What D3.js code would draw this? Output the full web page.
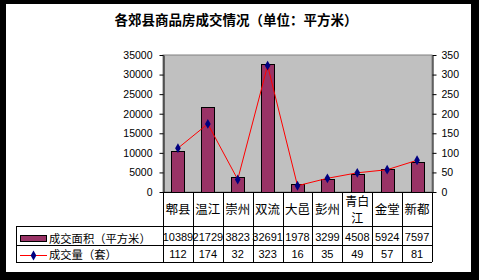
<!DOCTYPE html>
<html><head><meta charset="utf-8">
<script src="https://cdn.jsdelivr.net/npm/d3@7/dist/d3.min.js"></script>
<style>html,body{margin:0;padding:0;background:#000;}svg{display:block;}</style>
</head><body>
<script>
const title = "各郊县商品房成交情况（单位：平方米）";
const categories = ["郫县","温江","崇州","双流","大邑","彭州","青白江","金堂","新都"];
const areaValues = [10389,21729,3823,32691,1978,3299,4508,5924,7597];
const countValues = [112,174,32,323,16,35,49,57,81];
const leftTicks = [0,5000,10000,15000,20000,25000,30000,35000];
const rightTicks = [0,50,100,150,200,250,300,350];
const seriesNames = ["成交面积（平方米）","成交量（套）"];

const W=479,H=280;
const svg=d3.select("body").append("svg").attr("width",W).attr("height",H);
svg.append("rect").attr("x",6).attr("y",4).attr("width",465).attr("height",268).attr("fill","#fff");

const pl=163,pr=432,pt=55,pb=192;
const x=d3.scaleBand().domain(categories).range([pl,pr]).padding(0);
const yL=d3.scaleLinear().domain([0,35000]).range([pb,pt]);
const yR=d3.scaleLinear().domain([0,350]).range([pb,pt]);
const cjk="'Noto Sans CJK SC','Noto Sans',sans-serif";
const num="'Liberation Sans',Arial,sans-serif";

svg.append("text").attr("x",236).attr("y",25).attr("text-anchor","middle")
  .attr("font-family",cjk).attr("font-weight","bold").attr("font-size",13.5).text(title);

// plot area
svg.append("rect").attr("x",pl).attr("y",pt).attr("width",pr-pl).attr("height",pb-pt)
  .attr("fill","#c0c0c0").attr("stroke","#808080").attr("stroke-width",1);

// bars
const bw=13;
svg.selectAll("rect.bar").data(areaValues).join("rect").attr("class","bar")
  .attr("x",(d,i)=>Math.round(x(categories[i])+x.bandwidth()/2-bw/2)+0.5)
  .attr("y",d=>Math.round(yL(d))+0.5)
  .attr("width",bw).attr("height",d=>pb-Math.round(yL(d)))
  .attr("fill","#993366").attr("stroke","#000").attr("stroke-width",1);

// line
const line=d3.line().x((d,i)=>x(categories[i])+x.bandwidth()/2).y(d=>yR(d));
svg.append("path").datum(countValues).attr("d",line).attr("fill","none").attr("stroke","#ff0000").attr("stroke-width",1);
const diamond=d3.symbol().type(d3.symbolDiamond).size(28);
svg.selectAll("path.pt").data(countValues).join("path").attr("class","pt")
  .attr("transform",(d,i)=>`translate(${x(categories[i])+x.bandwidth()/2},${yR(d)})`)
  .attr("d",diamond).attr("fill","#000080");

// axes
const gl=svg.append("g").attr("transform",`translate(${pl+0.5},0)`)
  .call(d3.axisLeft(yL).tickValues(leftTicks).tickSize(4).tickSizeOuter(0).tickPadding(7).tickFormat(d3.format("d")));
const gr=svg.append("g").attr("transform",`translate(${pr+0.5},0)`)
  .call(d3.axisRight(yR).tickValues(rightTicks).tickSize(4).tickSizeOuter(0).tickPadding(5).tickFormat(d3.format("d")));
[gl,gr].forEach(g=>{
  g.selectAll("text").attr("font-family",num).attr("font-size",10.5).attr("fill","#000");
  g.selectAll("line,path").attr("stroke","#000");
});

// data table
const r1=pb,r2=226,r3=245,r4=262,lx=16;
const tl=svg.append("g").attr("stroke","#000").attr("stroke-width",1).attr("shape-rendering","crispEdges");
tl.append("line").attr("x1",pl).attr("x2",pr).attr("y1",r1).attr("y2",r1);
[r2,r3,r4].forEach(y=>tl.append("line").attr("x1",lx).attr("x2",pr).attr("y1",y).attr("y2",y));
tl.append("line").attr("x1",lx).attr("x2",lx).attr("y1",r2).attr("y2",r4);
categories.forEach(c=>tl.append("line").attr("x1",Math.round(x(c))).attr("x2",Math.round(x(c))).attr("y1",r1).attr("y2",r4));
tl.append("line").attr("x1",pr).attr("x2",pr).attr("y1",r1).attr("y2",r4);

categories.forEach((c,i)=>{
  const cx=x(c)+x.bandwidth()/2;
  if(c.length>2){
    svg.append("text").attr("x",cx).attr("y",206).attr("text-anchor","middle").attr("font-family",cjk).attr("font-size",12).text(c.slice(0,2));
    svg.append("text").attr("x",cx).attr("y",223).attr("text-anchor","middle").attr("font-family",cjk).attr("font-size",12).text(c.slice(2));
  } else {
    svg.append("text").attr("x",cx).attr("y",214).attr("text-anchor","middle").attr("font-family",cjk).attr("font-size",12.5).text(c);
  }
  svg.append("text").attr("x",cx).attr("y",241).attr("text-anchor","middle")
    .attr("font-family",num).attr("font-size",11).text(areaValues[i]);
  svg.append("text").attr("x",cx).attr("y",258).attr("text-anchor","middle")
    .attr("font-family",num).attr("font-size",11).text(countValues[i]);
});

// legend keys
svg.append("rect").attr("x",20.5).attr("y",235.5).attr("width",26).attr("height",6)
  .attr("fill","#993366").attr("stroke","#000");
svg.append("line").attr("x1",20).attr("x2",47).attr("y1",255.5).attr("y2",255.5).attr("stroke","#ff0000");
svg.append("path").attr("transform","translate(33.5,255.5)").attr("d",diamond).attr("fill","#000080");
svg.append("text").attr("x",49).attr("y",243).attr("font-family",cjk).attr("font-size",11.3).text(seriesNames[0]);
svg.append("text").attr("x",49).attr("y",259).attr("font-family",cjk).attr("font-size",11.3).text(seriesNames[1]);
</script>
</body></html>
